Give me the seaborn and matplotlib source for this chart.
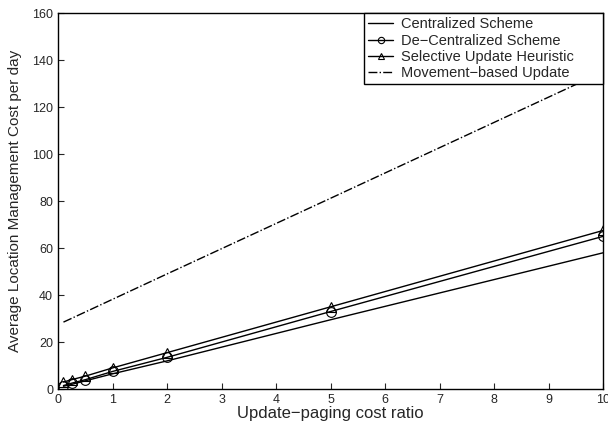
import pandas as pd
import seaborn as sns
import matplotlib
matplotlib.use("Agg")
import matplotlib.pyplot as plt

sns.set_style("ticks")
plt.rcParams["font.family"] = ["Liberation Sans", "DejaVu Sans"]

ratio = [0.1, 0.25, 0.5, 1, 2, 5, 10]
centralized = [1.2, 2.0, 3.5, 6.5, 12.0, 29.5, 58.0]
decentralized = [1.5, 2.5, 4.0, 7.5, 13.5, 33.0, 65.0]
selective = [3.0, 4.0, 5.5, 9.0, 15.5, 35.0, 67.5]
movement = [28.5, 30.1, 32.8, 38.2, 49.0, 81.2, 135.0]

series = {
    "Centralized Scheme": centralized,
    "De\u2212Centralized Scheme": decentralized,
    "Selective Update Heuristic": selective,
    "Movement\u2212based Update": movement,
}
df = pd.concat(
    [pd.DataFrame({"ratio": ratio, "cost": v, "scheme": k}) for k, v in series.items()],
    ignore_index=True,
)

fig = plt.figure(figsize=(6.08, 4.22), dpi=100)
ax = fig.add_axes([0.0954, 0.078, 0.8966, 0.891])

styles = {
    "Centralized Scheme": dict(marker=None, ls="-"),
    "De\u2212Centralized Scheme": dict(marker="o", ls="-"),
    "Selective Update Heuristic": dict(marker="^", ls="-"),
    "Movement\u2212based Update": dict(marker=None, ls="-."),
}
for name, st in styles.items():
    sub = df[df["scheme"] == name]
    sns.lineplot(data=sub, x="ratio", y="cost", ax=ax, color="black", lw=1.0,
                 linestyle=st["ls"], marker=st["marker"], markersize=7,
                 markerfacecolor="none", markeredgecolor="black",
                 markeredgewidth=0.8, label=name)

ax.set_xlim(0, 10)
ax.set_ylim(0, 160)
ax.set_xticks(range(0, 11))
ax.set_yticks(range(0, 161, 20))
ax.tick_params(direction="in", labelsize=9, length=4, width=0.8)
for s in ax.spines.values():
    s.set_visible(True)
    s.set_color("black")
    s.set_linewidth(1.0)
ax.set_xlabel("Update\u2212paging cost ratio", fontsize=12, labelpad=0)
ax.set_ylabel("Average Location Management Cost per day", fontsize=11, labelpad=7)

leg = ax.legend(loc="upper left", bbox_to_anchor=(0.5615, 0.5, 0.4385, 0.5),
                mode="expand", fontsize=10.5, frameon=True, fancybox=False,
                edgecolor="black", framealpha=1, borderpad=0.3, labelspacing=0.15,
                handlelength=1.7, handletextpad=0.55, borderaxespad=0,
                markerscale=0.65)
leg.get_frame().set_linewidth(1.0)

fig.savefig("out.png", dpi=100)
